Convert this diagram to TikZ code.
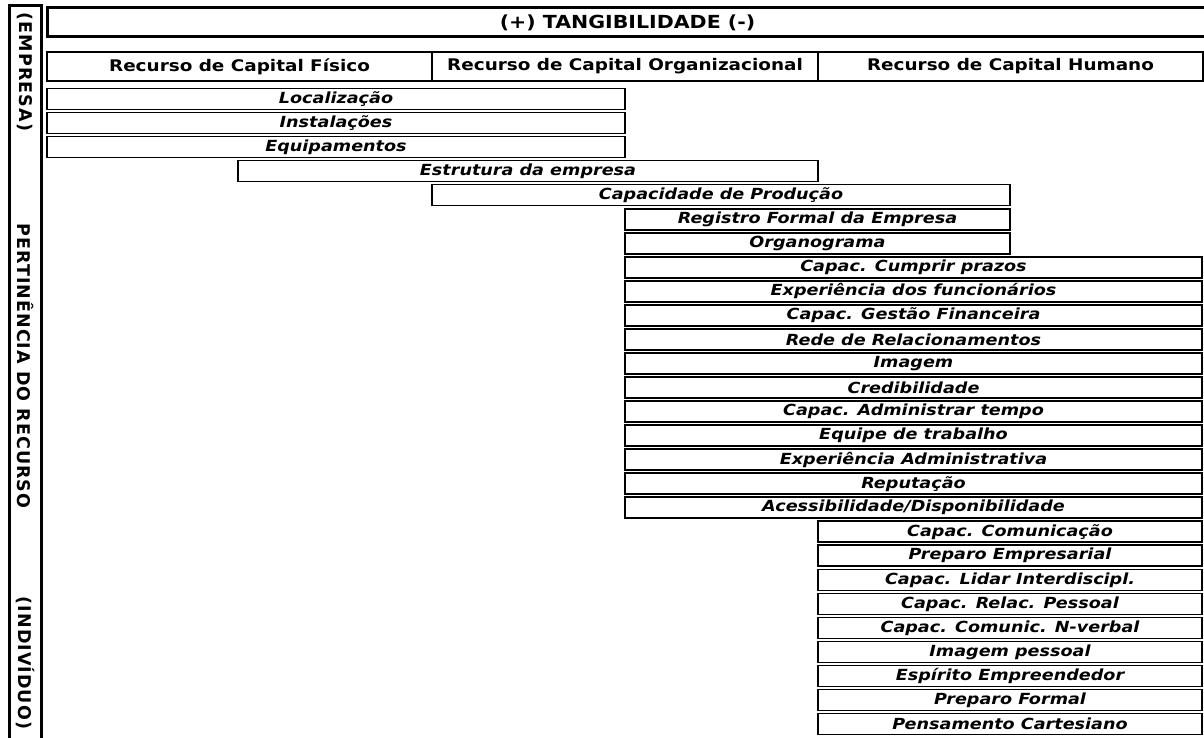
\documentclass[tikz,border=0pt]{standalone}
\usepackage{fontspec}
\newfontfamily\itemfont[FakeStretch=1.15]{DejaVu Sans}
\newfontfamily\headfont[FakeStretch=1.15]{DejaVu Sans}
\newfontfamily\titlefont[FakeStretch=1.14]{DejaVu Sans}
\newfontfamily\vertfont[LetterSpace=6]{DejaVu Sans}
\tikzset{
  itembox/.style={draw, line width=1.6pt, minimum height=21pt, inner sep=0pt,
    font=\itemfont\bfseries\itshape\fontsize{15.3}{18}\selectfont},
  headbox/.style={draw, line width=1.6pt, minimum height=29pt, inner sep=0pt,
    font=\headfont\bfseries\fontsize{16}{19}\selectfont},
  titlebox/.style={draw, line width=3pt, minimum height=29pt, inner sep=0pt,
    font=\titlefont\bfseries\fontsize{18}{21}\selectfont},
  sidebox/.style={draw, line width=3pt, inner sep=0pt},
  sidetext/.style={rotate=-90, inner sep=0pt,
    font=\vertfont\bfseries\fontsize{17.5}{20}\selectfont},
}
\begin{document}
\begin{tikzpicture}[x=1pt,y=-1pt]
\useasboundingbox (0,0) rectangle (1204,738);
\fill[white] (0,0) rectangle (1204,738);
\clip (0,0) rectangle (1204,738);
% side column
\node[sidebox, minimum width=32pt, minimum height=739pt] (side) at (25,375.5) {};
\node[sidetext] (emp) at (25,72) {(EMPRESA)};
\node[sidetext] (pert) at (25,366) {PERTINÊNCIA DO RECURSO};
\node[sidetext] (ind) at (25,663) {(INDIVÍDUO)};
% title
\node[titlebox, minimum width=1161pt] (title) at (627.5,22.5) {(+) TANGIBILIDADE (-)};
% headers
\node[headbox, minimum width=385pt] (hf) at (239.5,66.5) {Recurso de Capital Físico};
\node[headbox, minimum width=386pt] (ho) at (625,66.5) {Recurso de Capital Organizacional};
\node[headbox, minimum width=385pt] (hh) at (1010.5,66.5) {Recurso de Capital Humano};
% rows
\node[itembox, minimum width=578pt] (r0) at (336,99) {Localização};
\node[itembox, minimum width=578pt] (r1) at (336,123.04) {Instalações};
\node[itembox, minimum width=578pt] (r2) at (336,147.08) {Equipamentos};
\node[itembox, minimum width=580pt] (r3) at (528,171.12) {Estrutura da empresa};
\node[itembox, minimum width=578pt] (r4) at (721,195.16) {Capacidade de Produção};
\node[itembox, minimum width=385pt] (r5) at (817.5,219.2) {Registro Formal da Empresa};
\node[itembox, minimum width=385pt] (r6) at (817.5,243.24) {Organograma};
\node[itembox, minimum width=577pt] (r7) at (913.5,267.28) {Capac. Cumprir prazos};
\node[itembox, minimum width=577pt] (r8) at (913.5,291.32) {Experiência dos funcionários};
\node[itembox, minimum width=577pt] (r9) at (913.5,315.36) {Capac. Gestão Financeira};
\node[itembox, minimum width=577pt] (r10) at (913.5,339.4) {Rede de Relacionamentos};
\node[itembox, minimum width=577pt] (r11) at (913.5,363.44) {Imagem};
\node[itembox, minimum width=577pt] (r12) at (913.5,387.48) {Credibilidade};
\node[itembox, minimum width=577pt] (r13) at (913.5,411.52) {Capac. Administrar tempo};
\node[itembox, minimum width=577pt] (r14) at (913.5,435.56) {Equipe de trabalho};
\node[itembox, minimum width=577pt] (r15) at (913.5,459.6) {Experiência Administrativa};
\node[itembox, minimum width=577pt] (r16) at (913.5,483.64) {Reputação};
\node[itembox, minimum width=577pt] (r17) at (913.5,507.68) {Acessibilidade/Disponibilidade};
\node[itembox, minimum width=384pt] (r18) at (1010,531.72) {Capac. Comunicação};
\node[itembox, minimum width=384pt] (r19) at (1010,555.76) {Preparo Empresarial};
\node[itembox, minimum width=384pt] (r20) at (1010,579.8) {Capac. Lidar Interdiscipl.};
\node[itembox, minimum width=384pt] (r21) at (1010,603.84) {Capac. Relac. Pessoal};
\node[itembox, minimum width=384pt] (r22) at (1010,627.88) {Capac. Comunic. N-verbal};
\node[itembox, minimum width=384pt] (r23) at (1010,651.92) {Imagem pessoal};
\node[itembox, minimum width=384pt] (r24) at (1010,675.96) {Espírito Empreendedor};
\node[itembox, minimum width=384pt] (r25) at (1010,700) {Preparo Formal};
\node[itembox, minimum width=384pt] (r26) at (1010,724.04) {Pensamento Cartesiano};
\end{tikzpicture}
\end{document}
